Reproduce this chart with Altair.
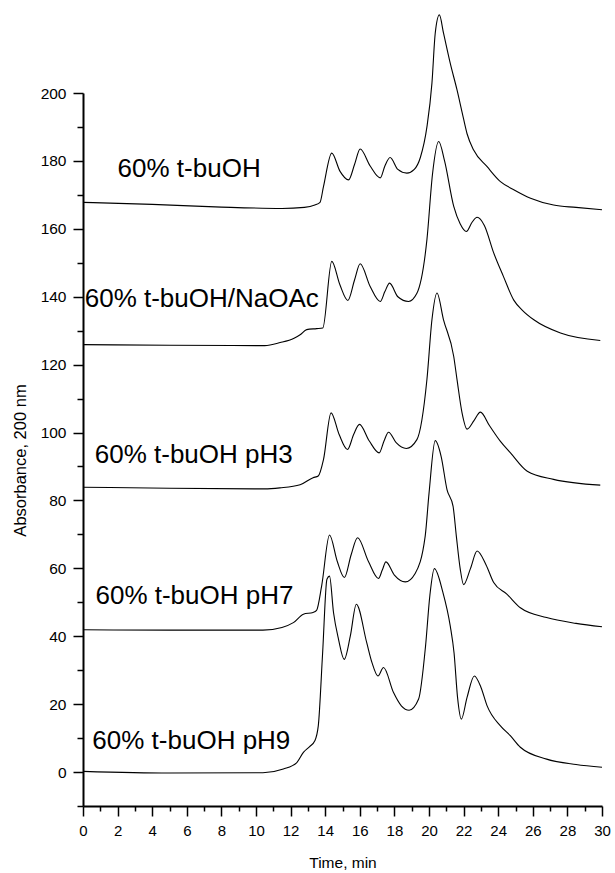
import altair as alt
import pandas as pd

FONT = "Liberation Sans"

series_names = ["60% t-buOH", "60% t-buOH/NaOAc", "60% t-buOH pH3", "60% t-buOH pH7", "60% t-buOH pH9"]

t1_x = [0, 4, 8, 11.5, 12.8, 13.4, 13.7, 13.9, 14.38, 14.85, 15.35, 15.7, 16.02, 16.6, 17.18, 17.45, 17.75, 18.2,
        18.72, 19.15, 19.5, 19.88, 20.17, 20.36, 20.6, 20.84, 21.23, 21.62, 21.91, 22.2, 22.58, 23.36, 24.13, 24.9,
        25.87, 27.2, 28.5, 30]
t1_y = [167.8, 167.2, 166.4, 166.0, 166.3, 167.0, 167.8, 172.4, 182.3, 177.0, 174.4, 179.0, 183.5, 178.5, 175.0,
        178.5, 181.0, 177.5, 176.4, 177.5, 181.0, 190.0, 202.9, 217.6, 223.0, 217.6, 208.7, 200.9, 194.4, 188.0,
        183.2, 178.3, 173.9, 171.5, 169.0, 167.0, 166.3, 165.6]

t2_x = [0, 5, 10.5, 11.4, 12.2, 12.55, 12.93, 13.5, 13.86, 14.38, 14.85, 15.31, 15.7, 16.02, 16.6, 17.18, 17.45,
        17.72, 18.2, 18.82, 19.3, 19.88, 20.2, 20.56, 20.9, 21.43, 21.8, 22.16, 22.5, 22.78, 23.2, 23.74, 24.3,
        24.9, 25.4, 26.06, 27.6, 29.9]
t2_y = [125.9, 125.7, 125.6, 126.5, 127.8, 128.8, 130.3, 130.6, 130.8, 150.4, 143.5, 138.9, 145.0, 149.7, 143.0,
        138.6, 141.5, 144.0, 140.0, 138.6, 141.0, 156.8, 176.0, 185.7, 180.0, 166.6, 161.5, 159.2, 162.0, 163.4,
        161.0, 152.9, 146.0, 139.0, 136.0, 133.2, 129.3, 127.1]

t3_x = [0, 5, 10.5, 11.38, 12.55, 13.3, 13.6, 13.9, 14.34, 14.8, 15.29, 15.65, 15.98, 16.55, 17.12, 17.4, 17.66,
        18.1, 18.69, 19.3, 19.88, 20.17, 20.46, 20.84, 21.43, 21.62, 21.91, 22.2, 22.6, 22.97, 23.5, 24.13, 24.71,
        25.68, 27.2, 29.9]
t3_y = [83.9, 83.6, 83.4, 83.7, 84.6, 86.7, 87.2, 92.0, 105.8, 99.5, 95.0, 99.5, 102.4, 97.5, 94.0, 97.5, 100.1,
        97.0, 95.3, 97.9, 115.6, 133.2, 141.1, 133.2, 122.4, 115.6, 105.8, 101.0, 103.5, 106.0, 102.0, 97.4, 94.0,
        88.6, 86.2, 84.5]

t4_x = [0, 5, 10.4, 11.5, 12.16, 12.74, 13.3, 13.5, 13.8, 14.25, 14.7, 15.11, 15.5, 15.87, 16.5, 17.08, 17.3,
        17.51, 18.0, 18.63, 19.2, 19.78, 20.0, 20.36, 20.7, 21.04, 21.39, 21.58, 21.8, 22.0, 22.4, 22.78, 23.3,
        23.74, 24.5, 25.28, 26.8, 28.5, 30]
t4_y = [41.9, 41.8, 41.8, 42.6, 44.0, 46.5, 47.0, 47.6, 55.0, 69.8, 62.0, 57.3, 64.0, 69.0, 62.0, 57.0, 59.5,
        61.9, 58.0, 56.0, 58.5, 69.5, 82.0, 97.6, 93.0, 83.2, 78.3, 69.5, 60.0, 55.2, 60.0, 65.1, 61.0, 55.8, 52.4,
        48.4, 45.5, 43.8, 42.8]

t5_x = [0, 5, 10.4, 11.58, 12.36, 12.74, 13.1, 13.4, 13.6, 13.85, 14.1, 14.25, 14.48, 14.77, 15.1, 15.45, 15.8,
        16.4, 16.7, 17.05, 17.37, 17.95, 18.4, 18.85, 19.4, 19.8, 20.05, 20.31, 20.8, 21.23, 21.45, 21.65, 21.87,
        22.2, 22.62, 23.0, 23.36, 24.13, 24.7, 25.28, 26.8, 28.5, 30]
t5_y = [0.2, -0.3, -0.2, 0.9, 2.8, 5.8, 7.5, 9.2, 13.6, 35.0, 56.8, 57.7, 47.0, 39.1, 33.2, 40.0, 49.4, 38.1,
        32.3, 28.3, 30.8, 23.4, 19.5, 18.2, 21.5, 37.1, 52.0, 59.9, 53.0, 43.0, 35.0, 22.0, 15.6, 22.0, 28.3, 25.0,
        19.5, 13.6, 10.7, 7.3, 3.8, 2.2, 1.4]

label_x = [2.0, 0.1, 0.68, 0.72, 0.54]
label_y = [177.6, 139.4, 93.3, 51.9, 9.0]

x_major = list(range(0, 31, 2))
x_minor = list(range(1, 30, 2))
y_major = list(range(0, 201, 20))
y_minor = list(range(-10, 200, 20))

rows = []
for name, xs, ys in zip(series_names, [t1_x, t2_x, t3_x, t4_x, t5_x], [t1_y, t2_y, t3_y, t4_y, t5_y]):
    for x, y in zip(xs, ys):
        rows.append({"series": name, "time": x, "absorbance": y})
df = pd.DataFrame(rows)
ann = pd.DataFrame({"label": series_names, "x": label_x, "y": label_y})

x_axis = alt.Axis(
    orient="bottom", values=x_major, tickSize=10,
    tickColor="black", tickWidth=1.5, domainColor="black", domainWidth=2,
    labelFont=FONT, labelFontSize=15, labelColor="black", labelPadding=7,
    labelOverlap=False, labelFlush=False, grid=False,
    title="Time, min", titleFont=FONT, titleFontSize=15.5, titleFontWeight="normal",
    titleColor="black", titleY=56, titleBaseline="middle",
)
y_axis = alt.Axis(
    orient="left", values=y_major, tickSize=10,
    tickColor="black", tickWidth=1.5, domainColor="black", domainWidth=2,
    labelFont=FONT, labelFontSize=15.5, labelColor="black", labelPadding=7,
    labelOverlap=False, labelFlush=False, grid=False,
    title="Absorbance, 200 nm", titleFont=FONT, titleFontSize=16.5, titleFontWeight="normal",
    titleColor="black", titleX=-63, titleY=367, titleAngle=-90, titleAlign="center", titleBaseline="middle",
)
x_axis_minor = alt.Axis(
    orient="bottom", values=x_minor, tickSize=5, tickColor="black", tickWidth=1.5,
    domain=False, labels=False, grid=False, title=None,
)
y_axis_minor = alt.Axis(
    orient="left", values=y_minor, tickSize=6, tickColor="black", tickWidth=1.5,
    domain=False, labels=False, grid=False, title=None,
)

xs = alt.Scale(domain=[0, 30], nice=False, zero=False)
ys = alt.Scale(domain=[-10, 200], nice=False, zero=False)

lines = alt.Chart(df).mark_line(color="black", strokeWidth=1.1, interpolate="monotone", clip=False).encode(
    x=alt.X("time:Q", scale=xs, axis=x_axis),
    y=alt.Y("absorbance:Q", scale=ys, axis=y_axis),
    detail="series:N",
)

texts = alt.Chart(ann).mark_text(align="left", baseline="middle", fontSize=26, font=FONT, color="black").encode(
    x=alt.X("x:Q", scale=xs, axis=x_axis_minor),
    y=alt.Y("y:Q", scale=ys, axis=y_axis_minor),
    text="label:N",
)

chart = alt.layer(lines, texts).resolve_axis(x="independent", y="independent").properties(
    width=519, height=713,
    padding={"left": 83, "top": 93, "right": 13, "bottom": 67},
    autosize=alt.AutoSizeParams(type="none"),
    background="white",
).configure_view(stroke=None)

chart.save("out.html", embed_options={"renderer": "svg", "actions": False})
